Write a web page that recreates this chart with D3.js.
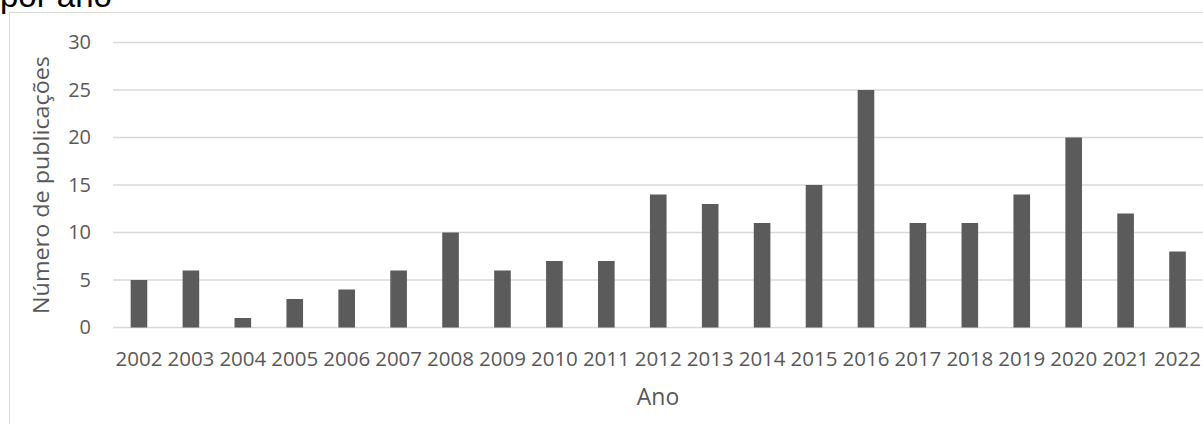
<!DOCTYPE html>
<html>
<head>
<meta charset="utf-8">
<script src="https://cdn.jsdelivr.net/npm/d3@7"></script>
<style>
  html, body { margin: 0; padding: 0; background: #fff; }
  svg { display: block; }
</style>
</head>
<body>
<svg id="chart" width="1203" height="424"></svg>
<script>
// Publicações por ano
const years = ["2002","2003","2004","2005","2006","2007","2008","2009","2010","2011","2012",
               "2013","2014","2015","2016","2017","2018","2019","2020","2021","2022"];
const publications = [5, 6, 1, 3, 4, 6, 10, 6, 7, 7, 14, 13, 11, 15, 25, 11, 11, 14, 20, 12, 8];
const yTicks = [0, 5, 10, 15, 20, 25, 30];

const svg = d3.select("#chart");
const W = 1203, H = 424;
const font = "'Open Sans', 'Noto Sans', sans-serif";
const grey = "#595959";

// chart frame
svg.append("rect")
  .attr("x", 9.5).attr("y", 12.5)
  .attr("width", W + 10).attr("height", H + 10)
  .attr("fill", "none").attr("stroke", "#d9d9d9").attr("stroke-width", 1);

// title (only its bottom line shows)
svg.append("text")
  .attr("x", 0).attr("y", 7)
  .attr("font-family", "'Liberation Sans', Arial, sans-serif")
  .attr("font-size", 33)
  .attr("fill", "#000")
  .text("por ano");

const plot = { left: 113, right: 1203.5, top: 42.5, bottom: 327.5 };

const x = d3.scaleBand()
  .domain(years)
  .range([plot.left, plot.right])
  .paddingInner(0.68)
  .paddingOuter(0.34);

const y = d3.scaleLinear()
  .domain([0, 30])
  .range([plot.bottom, plot.top]);

// gridlines
svg.append("g")
  .selectAll("line")
  .data(yTicks)
  .join("line")
  .attr("x1", plot.left).attr("x2", plot.right)
  .attr("y1", d => y(d)).attr("y2", d => y(d))
  .attr("stroke", "#d9d9d9").attr("stroke-width", 1.5);

// y tick labels
const yAxis = d3.axisLeft(y).tickValues(yTicks).tickSize(0).tickPadding(0);
const gy = svg.append("g").attr("transform", "translate(91,0)").call(yAxis);
gy.select(".domain").remove();
gy.selectAll("text")
  .attr("font-family", font).attr("font-size", 20).attr("fill", grey);

// bars
svg.append("g")
  .selectAll("rect")
  .data(publications)
  .join("rect")
  .attr("x", (d, i) => x(years[i]))
  .attr("width", x.bandwidth())
  .attr("y", d => y(d))
  .attr("height", d => y(0) - y(d))
  .attr("fill", "#5b5b5b");

// x tick labels
const xAxis = d3.axisBottom(x).tickSize(0).tickPadding(0);
const gx = svg.append("g").call(xAxis);
gx.select(".domain").remove();
gx.selectAll("text")
  .attr("dy", null)
  .attr("y", 366)
  .attr("font-family", font).attr("font-size", 20.5).attr("fill", grey);

// axis titles
svg.append("text")
  .attr("x", 658).attr("y", 405)
  .attr("text-anchor", "middle")
  .attr("font-family", font).attr("font-size", 23).attr("fill", grey)
  .text("Ano");

svg.append("text")
  .attr("transform", `translate(49,${(plot.top + plot.bottom) / 2}) rotate(-90)`)
  .attr("text-anchor", "middle")
  .attr("font-family", font).attr("font-size", 22).attr("fill", grey)
  .attr("textLength", 258).attr("lengthAdjust", "spacingAndGlyphs")
  .text("Número de publicações");
</script>
</body>
</html>
